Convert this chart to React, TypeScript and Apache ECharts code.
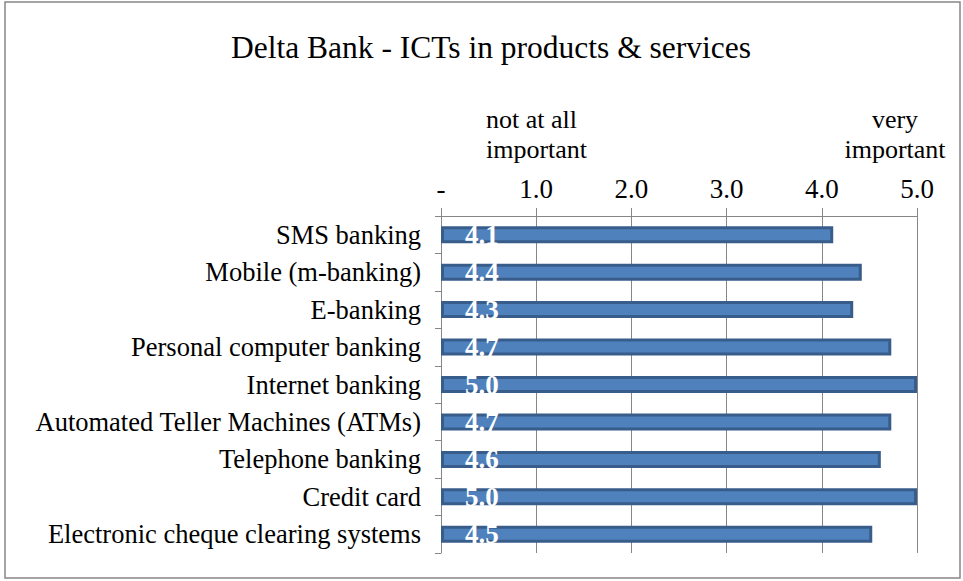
import React, { useEffect, useRef } from "react";
import * as echarts from "echarts";

const categories = [
  "SMS banking",
  "Mobile (m-banking)",
  "E-banking",
  "Personal computer banking",
  "Internet banking",
  "Automated Teller Machines (ATMs)",
  "Telephone banking",
  "Credit card",
  "Electronic cheque clearing systems",
];
const values = [4.12, 4.42, 4.33, 4.73, 5.0, 4.73, 4.62, 5.0, 4.53];
const titleText = "Delta Bank - ICTs in products & services";
const lowLabel = "not at all\nimportant";
const highLabel = "very\nimportant";

const FONT = "'Liberation Serif', 'Times New Roman', serif";

export default function App() {
  const ref = useRef<HTMLDivElement>(null);
  useEffect(() => {
    if (!ref.current) return;
    const chart = echarts.init(ref.current, null, { renderer: "svg" });
    chart.setOption({
      animation: false,
      backgroundColor: "#ffffff",
      title: {
        text: titleText,
        left: 486,
        textAlign: "center",
        top: 26,
        textStyle: { fontFamily: FONT, fontSize: 31.5, fontWeight: "normal", color: "#000" },
      },
      grid: { left: 441, right: 46, top: 216, bottom: 28, containLabel: false },
      xAxis: {
        type: "value",
        position: "top",
        min: 0,
        max: 5,
        interval: 1,
        axisLine: { show: true, lineStyle: { color: "#868686", width: 1 } },
        axisTick: { show: true, inside: false, length: 8, lineStyle: { color: "#868686" } },
        splitLine: { show: true, lineStyle: { color: "#868686", width: 1 } },
        axisLabel: {
          margin: 14,
          fontFamily: FONT,
          fontSize: 27,
          color: "#000",
          formatter: (v: number) => (v === 0 ? "-" : v.toFixed(1)),
        },
      },
      yAxis: {
        type: "category",
        data: categories,
        inverse: true,
        axisLine: { show: true, lineStyle: { color: "#868686", width: 1 } },
        axisTick: { show: true, length: 6, lineStyle: { color: "#868686" } },
        axisLabel: { margin: 20, fontFamily: FONT, fontSize: 26.5, color: "#000" },
      },
      series: [
        {
          type: "bar",
          data: values,
          barWidth: 17,
          itemStyle: { color: "#4F81BD", borderColor: "#385D8A", borderWidth: 3 },
          label: {
            show: true,
            position: "insideLeft",
            distance: 24,
            fontFamily: FONT,
            fontSize: 27,
            fontWeight: "bold",
            color: "#ffffff",
            formatter: (p: any) => Number(p.value).toFixed(1),
          },
        },
      ],
      graphic: [
        {
          type: "rect",
          shape: { x: 5, y: 2, width: 955, height: 576 },
          style: { fill: "none", stroke: "#868686", lineWidth: 1.5 },
          silent: true,
        },
        {
          type: "text",
          x: 486,
          y: 104,
          style: { text: lowLabel, fontFamily: FONT, fontSize: 26, fill: "#000", lineHeight: 30, align: "left" },
        },
        {
          type: "text",
          x: 895,
          y: 104,
          style: { text: highLabel, fontFamily: FONT, fontSize: 26, fill: "#000", lineHeight: 30, align: "center" },
        },
      ],
    });
    return () => chart.dispose();
  }, []);
  return (
    <div
      ref={ref}
      style={{ position: "fixed", left: 0, top: 0, width: 963, height: 581 }}
    />
  );
}
